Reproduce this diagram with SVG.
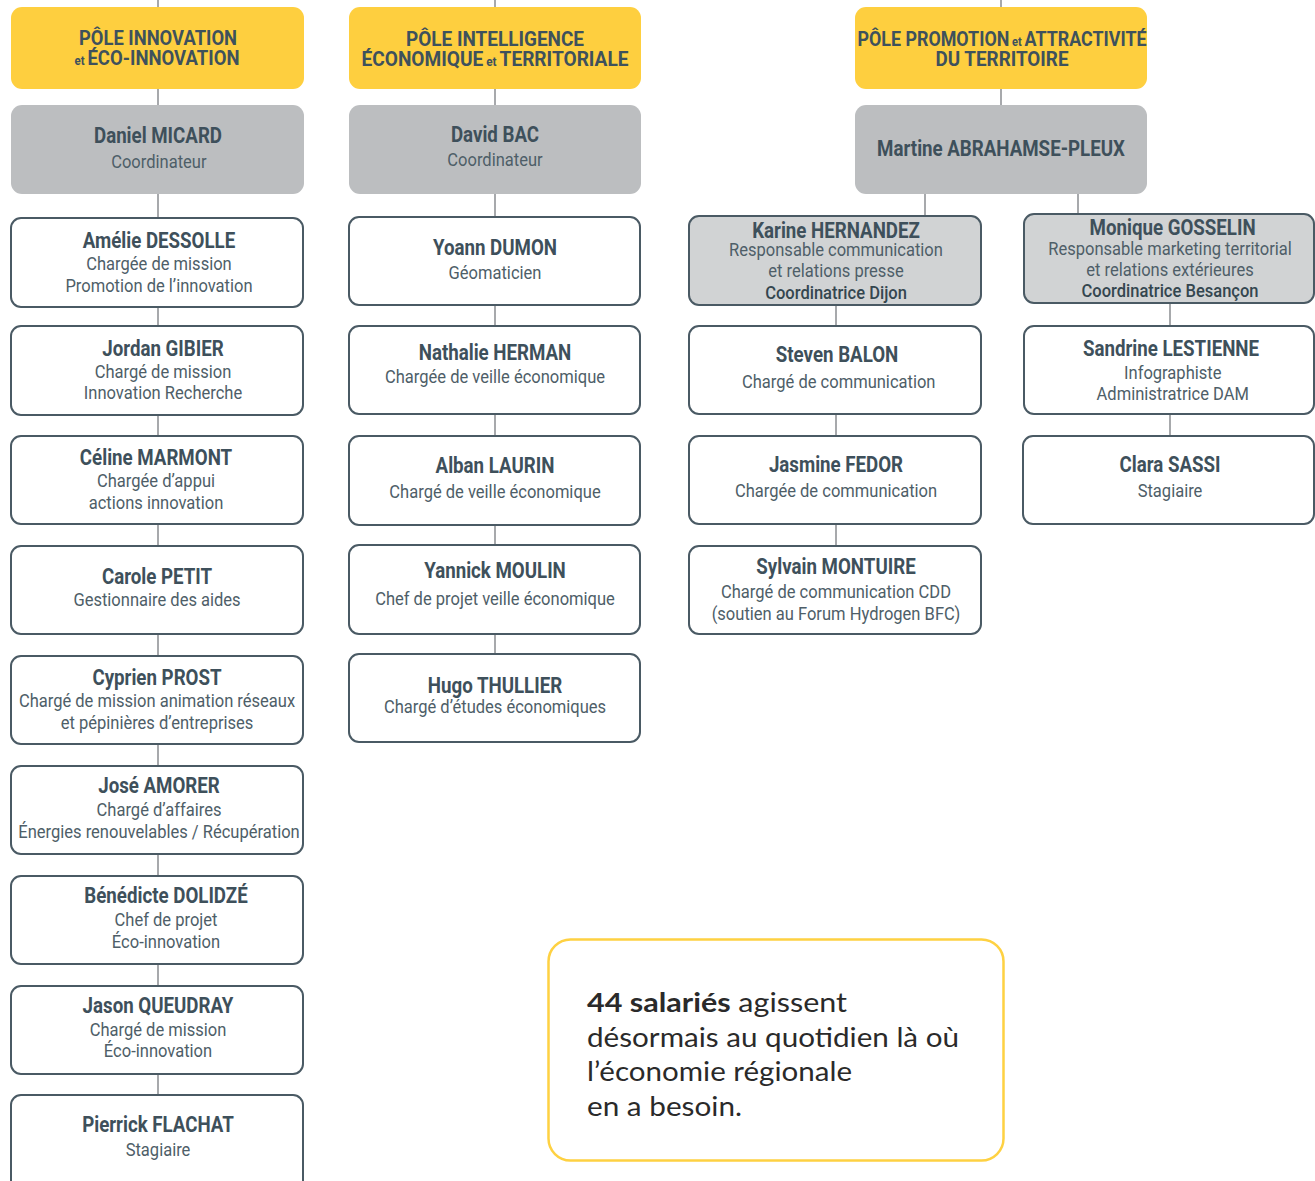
<svg xmlns="http://www.w3.org/2000/svg" width="1315" height="1181" viewBox="0 0 1315 1181">
<style>
.bg{fill:#ffffff}
.hd{fill:#fecf3f}
.co{fill:#bcbec0}
.bx{fill:#ffffff;stroke:#4a5a64;stroke-width:2}
.bxg{fill:#d1d3d4;stroke:#4a5a64;stroke-width:2}
.ln{stroke:#a7a9ac;stroke-width:2;fill:none}
text{font-family:"Roboto","Liberation Sans",sans-serif;text-anchor:middle}
.h{font-size:21px;font-weight:bold;fill:#3e515c}
.h .s{font-size:13px}
.n{font-size:21.5px;font-weight:bold;fill:#3e505b}
.r{font-size:19px;fill:#4e5e68}
.rb{font-size:19px;font-weight:500;fill:#34464f}
.q{font-family:"Lato","Noto Sans",sans-serif;font-size:27px;fill:#2a2a2a;text-anchor:start}
.q .b{font-weight:bold}
</style>
<rect class="bg" x="0" y="0" width="1315" height="1181"/>
<g id="connectors">
<line class="ln" x1="158" y1="0" x2="158" y2="1095"/>
<line class="ln" x1="495" y1="0" x2="495" y2="654"/>
<line class="ln" x1="1001" y1="0" x2="1001" y2="106"/>
<line class="ln" x1="925" y1="193" x2="925" y2="216"/>
<line class="ln" x1="1078" y1="193" x2="1078" y2="214"/>
<line class="ln" x1="836" y1="304" x2="836" y2="546"/>
<line class="ln" x1="1170" y1="302" x2="1170" y2="436"/>
</g>
<g id="pole-innovation">
<rect class="hd" x="11" y="7" width="293" height="82" rx="11"/>
<text class="h" x="158" y="45" textLength="158" lengthAdjust="spacingAndGlyphs">PÔLE INNOVATION</text>
<text class="h" x="157" y="65" textLength="165" lengthAdjust="spacingAndGlyphs"><tspan class="s">et </tspan>ÉCO-INNOVATION</text>
</g>
<g id="pole-intelligence">
<rect class="hd" x="349" y="7" width="292" height="82" rx="11"/>
<text class="h" x="495" y="46" textLength="178" lengthAdjust="spacingAndGlyphs">PÔLE INTELLIGENCE</text>
<text class="h" x="495" y="66" textLength="267" lengthAdjust="spacingAndGlyphs">ÉCONOMIQUE<tspan class="s"> et </tspan>TERRITORIALE</text>
</g>
<g id="pole-promotion">
<rect class="hd" x="855" y="7" width="292" height="82" rx="11"/>
<text class="h" x="1002" y="46" textLength="289" lengthAdjust="spacingAndGlyphs">PÔLE PROMOTION<tspan class="s"> et </tspan>ATTRACTIVITÉ</text>
<text class="h" x="1002" y="66" textLength="133" lengthAdjust="spacingAndGlyphs">DU TERRITOIRE</text>
</g>
<g id="daniel-micard">
<rect class="co" x="11" y="105" width="293" height="89" rx="11"/>
<g transform="translate(158 0) scale(0.87 1)">
<text class="n" x="0" y="143">Daniel MICARD</text>
<text class="r" x="1" y="168">Coordinateur</text>
</g>
</g>
<g id="david-bac">
<rect class="co" x="349" y="105" width="292" height="89" rx="11"/>
<g transform="translate(495 0) scale(0.87 1)">
<text class="n" x="0" y="142">David BAC</text>
<text class="r" x="0" y="166">Coordinateur</text>
</g>
</g>
<g id="martine-abrahamse-pleux">
<rect class="co" x="855" y="105" width="292" height="89" rx="11"/>
<g transform="translate(1001 0) scale(0.87 1)">
<text class="n" x="0" y="156">Martine ABRAHAMSE-PLEUX</text>
</g>
</g>
<g id="amelie-dessolle">
<rect class="bx" x="11" y="218" width="292" height="89" rx="10"/>
<g transform="translate(159 0) scale(0.87 1)">
<text class="n" x="0" y="248">Amélie DESSOLLE</text>
<text class="r" x="0" y="270">Chargée de mission</text>
<text class="r" x="0" y="292">Promotion de l’innovation</text>
</g>
</g>
<g id="jordan-gibier">
<rect class="bx" x="11" y="326" width="292" height="89" rx="10"/>
<g transform="translate(163 0) scale(0.87 1)">
<text class="n" x="0" y="356">Jordan GIBIER</text>
<text class="r" x="0" y="378">Chargé de mission</text>
<text class="r" x="0" y="399">Innovation Recherche</text>
</g>
</g>
<g id="celine-marmont">
<rect class="bx" x="11" y="436" width="292" height="88" rx="10"/>
<g transform="translate(156 0) scale(0.87 1)">
<text class="n" x="0" y="465">Céline MARMONT</text>
<text class="r" x="0" y="487">Chargée d’appui</text>
<text class="r" x="0" y="509">actions innovation</text>
</g>
</g>
<g id="carole-petit">
<rect class="bx" x="11" y="546" width="292" height="88" rx="10"/>
<g transform="translate(157 0) scale(0.87 1)">
<text class="n" x="0" y="584">Carole PETIT</text>
<text class="r" x="0" y="606">Gestionnaire des aides</text>
</g>
</g>
<g id="cyprien-prost">
<rect class="bx" x="11" y="656" width="292" height="88" rx="10"/>
<g transform="translate(157 0) scale(0.87 1)">
<text class="n" x="0" y="685">Cyprien PROST</text>
<text class="r" x="0" y="707">Chargé de mission animation réseaux</text>
<text class="r" x="0" y="729">et pépinières d’entreprises</text>
</g>
</g>
<g id="jose-amorer">
<rect class="bx" x="11" y="766" width="292" height="88" rx="10"/>
<g transform="translate(159 0) scale(0.87 1)">
<text class="n" x="0" y="793">José AMORER</text>
<text class="r" x="0" y="816">Chargé d’affaires</text>
<text class="r" x="0" y="838">Énergies renouvelables / Récupération</text>
</g>
</g>
<g id="benedicte-dolidze">
<rect class="bx" x="11" y="876" width="292" height="88" rx="10"/>
<g transform="translate(166 0) scale(0.87 1)">
<text class="n" x="0" y="903">Bénédicte DOLIDZÉ</text>
<text class="r" x="0" y="926">Chef de projet</text>
<text class="r" x="0" y="948">Éco-innovation</text>
</g>
</g>
<g id="jason-queudray">
<rect class="bx" x="11" y="986" width="292" height="88" rx="10"/>
<g transform="translate(158 0) scale(0.87 1)">
<text class="n" x="0" y="1013">Jason QUEUDRAY</text>
<text class="r" x="0" y="1036">Chargé de mission</text>
<text class="r" x="0" y="1057">Éco-innovation</text>
</g>
</g>
<g id="pierrick-flachat">
<rect class="bx" x="11" y="1095" width="292" height="100" rx="10"/>
<g transform="translate(158 0) scale(0.87 1)">
<text class="n" x="0" y="1132">Pierrick FLACHAT</text>
<text class="r" x="0" y="1156">Stagiaire</text>
</g>
</g>
<g id="yoann-dumon">
<rect class="bx" x="349" y="217" width="291" height="88" rx="10"/>
<g transform="translate(495 0) scale(0.87 1)">
<text class="n" x="0" y="255">Yoann DUMON</text>
<text class="r" x="0" y="279">Géomaticien</text>
</g>
</g>
<g id="nathalie-herman">
<rect class="bx" x="349" y="326" width="291" height="88" rx="10"/>
<g transform="translate(495 0) scale(0.87 1)">
<text class="n" x="0" y="360">Nathalie HERMAN</text>
<text class="r" x="0" y="383">Chargée de veille économique</text>
</g>
</g>
<g id="alban-laurin">
<rect class="bx" x="349" y="436" width="291" height="89" rx="10"/>
<g transform="translate(495 0) scale(0.87 1)">
<text class="n" x="0" y="473">Alban LAURIN</text>
<text class="r" x="0" y="498">Chargé de veille économique</text>
</g>
</g>
<g id="yannick-moulin">
<rect class="bx" x="349" y="545" width="291" height="89" rx="10"/>
<g transform="translate(495 0) scale(0.87 1)">
<text class="n" x="0" y="578">Yannick MOULIN</text>
<text class="r" x="0" y="605">Chef de projet veille économique</text>
</g>
</g>
<g id="hugo-thullier">
<rect class="bx" x="349" y="654" width="291" height="88" rx="10"/>
<g transform="translate(495 0) scale(0.87 1)">
<text class="n" x="0" y="693">Hugo THULLIER</text>
<text class="r" x="0" y="713">Chargé d’études économiques</text>
</g>
</g>
<g id="karine-hernandez">
<rect class="bxg" x="689" y="216" width="292" height="89" rx="10"/>
<g transform="translate(836 0) scale(0.87 1)">
<text class="n" x="0" y="238">Karine HERNANDEZ</text>
<text class="r" x="0" y="256">Responsable communication</text>
<text class="r" x="0" y="277">et relations presse</text>
<text class="rb" x="0" y="299">Coordinatrice Dijon</text>
</g>
</g>
<g id="monique-gosselin">
<rect class="bxg" x="1024" y="214" width="290" height="89" rx="10"/>
<g transform="translate(1170 0) scale(0.87 1)">
<text class="n" x="3" y="235">Monique GOSSELIN</text>
<text class="r" x="0" y="255">Responsable marketing territorial</text>
<text class="r" x="0" y="276">et relations extérieures</text>
<text class="rb" x="0" y="297">Coordinatrice Besançon</text>
</g>
</g>
<g id="steven-balon">
<rect class="bx" x="689" y="326" width="292" height="88" rx="10"/>
<g transform="translate(837 0) scale(0.87 1)">
<text class="n" x="0" y="362">Steven BALON</text>
<text class="r" x="2" y="388">Chargé de communication</text>
</g>
</g>
<g id="jasmine-fedor">
<rect class="bx" x="689" y="436" width="292" height="88" rx="10"/>
<g transform="translate(836 0) scale(0.87 1)">
<text class="n" x="0" y="472">Jasmine FEDOR</text>
<text class="r" x="0" y="497">Chargée de communication</text>
</g>
</g>
<g id="sylvain-montuire">
<rect class="bx" x="689" y="546" width="292" height="88" rx="10"/>
<g transform="translate(836 0) scale(0.87 1)">
<text class="n" x="0" y="574">Sylvain MONTUIRE</text>
<text class="r" x="0" y="598">Chargé de communication CDD</text>
<text class="r" x="0" y="620">(soutien au Forum Hydrogen BFC)</text>
</g>
</g>
<g id="sandrine-lestienne">
<rect class="bx" x="1024" y="326" width="290" height="88" rx="10"/>
<g transform="translate(1171 0) scale(0.87 1)">
<text class="n" x="0" y="356">Sandrine LESTIENNE</text>
<text class="r" x="2" y="379">Infographiste</text>
<text class="r" x="2" y="400">Administratrice DAM</text>
</g>
</g>
<g id="clara-sassi">
<rect class="bx" x="1023" y="436" width="291" height="88" rx="10"/>
<g transform="translate(1170 0) scale(0.87 1)">
<text class="n" x="0" y="472">Clara SASSI</text>
<text class="r" x="0" y="497">Stagiaire</text>
</g>
</g>
<g id="summary">
<rect x="548.5" y="939.5" width="455" height="221" rx="22" fill="#ffffff" stroke="#fed142" stroke-width="2.5"/>
<text class="q" x="587" y="1012" textLength="260" lengthAdjust="spacingAndGlyphs"><tspan class="b">44 salariés</tspan> agissent</text>
<text class="q" x="587" y="1047" textLength="372" lengthAdjust="spacingAndGlyphs">désormais au quotidien là où</text>
<text class="q" x="587" y="1081" textLength="265" lengthAdjust="spacingAndGlyphs">l’économie régionale</text>
<text class="q" x="587" y="1116" textLength="155" lengthAdjust="spacingAndGlyphs">en a besoin.</text>
</g>
</svg>
